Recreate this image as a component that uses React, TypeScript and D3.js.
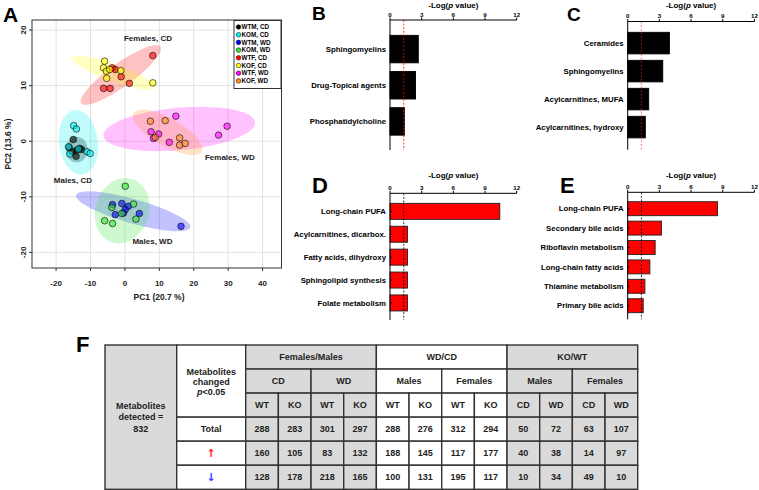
import * as d3 from "d3";

const FONT = "'Liberation Sans', Arial, Helvetica, sans-serif";

// ---- panel A: PCA scores ----
const groupNames = ["WTM, CD", "KOM, CD", "WTM, WD", "KOM, WD", "WTF, CD", "KOF, CD", "WTF, WD", "KOF, WD"];
const groupColors = ["#000000", "#00f0f0", "#0000ff", "#33e633", "#ff0000", "#ffff00", "#ff00ff", "#ff8c1a"];

const pcScores: [number, number][][] = [
  [[-15, 0.3], [-16.2, -1.1], [-14, -1.6], [-13.1, -1.3], [-12.6, -1.5], [-14.2, -2.7], [-15.3, -1.9]],
  [[-14.9, 2.8], [-14.1, 2.2], [-16, -2.3], [-11, -1.9], [-10.1, -2.2], [-16.4, -1.0], [-13.5, -1.4]],
  [[-3.6, -11.4], [-0.9, -11.2], [1.0, -11.7], [0.1, -12.3], [-0.4, -12.9], [-2.8, -13.2], [4.2, -13.0], [16.3, -15.3]],
  [[0.1, -8.1], [2.5, -11.3], [-3.8, -11.9], [-0.9, -13.0], [3.2, -14.0], [-5.9, -14.3], [-3.6, -14.8]],
  [[-3.7, 13.2], [-2.8, 12.9], [-1.1, 11.6], [1.3, 10.4], [-6.2, 9.5], [-4.3, 9.5], [8.1, 15.4]],
  [[-5.9, 14.4], [-6.2, 13.2], [-5.4, 12.6], [-4.4, 12.9], [-1.2, 12.7], [-5.3, 11.3], [8.1, 10.5]],
  [[14.8, 4.5], [7.6, 1.7], [9.8, 1.3], [8.3, 0.5], [12.9, -0.2], [27.2, 1.1], [29.7, 2.7]],
  [[7.4, 3.6], [11.7, 3.7], [8.8, 0.7], [15.9, 0.6], [15.9, -0.7], [17.5, -0.4]],
];

// confidence ellipses: centre and two conjugate semi-axes, in PC units
const ellipseCenter: [number, number][] = [
  [-14.0, -1.5], [-13.5, -0.2], [2.4, -12.6], [-0.8, -12.5], [-1.2, 11.9], [-3.3, 12.3], [15.8, 2.2], [12.4, 1.6],
];
const ellipseAxisA: [number, number][] = [
  [3.2, 0], [-1.17, 5.8], [16.6, -2.9], [2.9, 5.7], [11.5, 5.1], [12.1, -2.7], [22.0, 1.2], [9.94, -3.4],
];
const ellipseAxisB: [number, number][] = [
  [0, 2.3], [5.6, 0.42], [-0.94, -2.1], [7.4, -1.44], [2.0, -1.7], [-0.83, -1.41], [0.5, -3.8], [-1.86, -2.25],
];

const clusterLabels = ["Females, CD", "Females, WD", "Males, CD", "Males, WD"];
const clusterLabelAt: [number, number][] = [[6.7, 18.6], [30.5, -2.8], [-15.1, -7.0], [8.0, -18.0]];

const pc1Ticks = [-20, -10, 0, 10, 20, 30, 40];
const pc2Ticks = [-20, -10, 0, 10, 20];

// ---- panels B-E: enrichment ----
const logTicks = [0, 3, 6, 9, 12];
const threshold = -Math.log10(0.05);

const bCats = ["Sphingomyelins", "Drug-Topical agents", "Phosphatidylcholine"];
const bVals = [2.68, 2.42, 1.36];
const cCats = ["Ceramides", "Sphingomyelins", "Acylcarnitines, MUFA", "Acylcarnitines, hydroxy"];
const cVals = [3.95, 3.32, 1.99, 1.67];
const dCats = ["Long-chain PUFA", "Acylcarnitines, dicarbox.", "Fatty acids, dihydroxy", "Sphingolipid synthesis", "Folate metabolism"];
const dVals = [10.4, 1.66, 1.66, 1.66, 1.66];
const eCats = ["Long-chain PUFA", "Secondary bile acids", "Riboflavin metabolism", "Long-chain fatty acids", "Thiamine metabolism", "Primary bile acids"];
const eVals = [8.5, 3.2, 2.6, 2.1, 1.63, 1.47];

// ---- panel F: table ----
const groupHeads = ["Females/Males", "WD/CD", "KO/WT"];
const subHeads = ["CD", "WD", "Males", "Females", "Males", "Females"];
const leafHeads = ["WT", "KO", "WT", "KO", "WT", "KO", "WT", "KO", "CD", "WD", "CD", "WD"];
const totalRow = [288, 283, 301, 297, 288, 276, 312, 294, 50, 72, 63, 107];
const upRow = [160, 105, 83, 132, 188, 145, 117, 177, 40, 38, 14, 97];
const downRow = [128, 178, 218, 165, 100, 131, 195, 117, 10, 34, 49, 10];
const detected = 832;

function PanelA() {
  const x = d3.scaleLinear([-27, 45.5], [32, 281.5]);
  const y = d3.scaleLinear([-22.8, 21.8], [268, 20]);
  const steps = d3.range(0, 80).map((i) => (i / 80) * 2 * Math.PI);
  const ell = (c: [number, number], a: [number, number], b: [number, number]) =>
    (d3.line()(
      steps.map((t) => [
        x(c[0] + a[0] * Math.cos(t) + b[0] * Math.sin(t)),
        y(c[1] + a[1] * Math.cos(t) + b[1] * Math.sin(t)),
      ])
    ) || "") + "Z";
  const [x0, x1] = x.range();
  const [y0, y1] = y.range();
  return (
    <g fontFamily={FONT} fontWeight="bold">
      <text x={3} y={22} fontSize={21}>A</text>
      {pc1Ticks.map((t) => (
        <line key={"gx" + t} x1={x(t)} x2={x(t)} y1={y1} y2={y0} stroke="#e2e2e2" />
      ))}
      {pc2Ticks.map((t) => (
        <line key={"gy" + t} x1={x0} x2={x1} y1={y(t)} y2={y(t)} stroke="#e2e2e2" />
      ))}
      {ellipseCenter.map((c, i) => (
        <path key={"e" + i} d={ell(c, ellipseAxisA[i], ellipseAxisB[i])} fill={groupColors[i]}
          fillOpacity={i === 0 ? 0.28 : 0.24} stroke="none" />
      ))}
      {pcScores.map((pts, i) =>
        pts.map((p, j) => (
          <circle key={i + "-" + j} cx={x(p[0])} cy={y(p[1])} r={3.3} fill={groupColors[i]}
            fillOpacity={0.6} stroke="#000" strokeWidth={0.7} strokeOpacity={0.85} />
        ))
      )}
      {clusterLabels.map((l, i) => (
        <text key={l} x={x(clusterLabelAt[i][0])} y={y(clusterLabelAt[i][1])} dy="0.35em"
          textAnchor="middle" fontSize={8} fill="#222">{l}</text>
      ))}
      <rect x={x0} y={y1} width={x1 - x0} height={y0 - y1} fill="none" stroke="#333" />
      {pc1Ticks.map((t) => (
        <g key={"tx" + t}>
          <line x1={x(t)} x2={x(t)} y1={y0} y2={y0 + 3} stroke="#333" />
          <text x={x(t)} y={286} textAnchor="middle" fontSize={8} fill="#222">{t}</text>
        </g>
      ))}
      {pc2Ticks.map((t) => (
        <g key={"ty" + t}>
          <line x1={x0 - 3} x2={x0} y1={y(t)} y2={y(t)} stroke="#333" />
          <text transform={`translate(25.5,${y(t)}) rotate(-90)`} textAnchor="middle" fontSize={8} fill="#222">{t}</text>
        </g>
      ))}
      <text x={159} y={299.5} textAnchor="middle" fontSize={8.5} fill="#222">PC1 (20.7 %)</text>
      <text transform="translate(11,144) rotate(-90)" textAnchor="middle" fontSize={8.5} fill="#222">PC2 (13.6 %)</text>
      <rect x={234} y={20.5} width={47} height={68} fill="#fff" stroke="#333" />
      {groupNames.map((g, i) => (
        <g key={g} transform={`translate(0,${27 + i * 7.7})`}>
          <circle cx={238.5} cy={0} r={2.3} fill={groupColors[i]} stroke="#000" strokeWidth={0.5} />
          <text x={241.5} y={0} dy="0.35em" fontSize={6.3}>{g}</text>
        </g>
      ))}
    </g>
  );
}

function BarPanel({ letter, letterX, letterY, letterSize, cats, vals, left, top, bottom, band, pad,
  fill, stroke, dash, dashOpacity, titleGap }: any) {
  const x = d3.scaleLinear([0, 12], [left, left + 126.7]);
  const y = d3.scaleBand<string>(cats, band).paddingInner(pad).paddingOuter(pad / 2);
  return (
    <g fontFamily={FONT} fontWeight="bold">
      <text x={letterX} y={letterY} fontSize={letterSize}>{letter}</text>
      <text x={x(6)} y={top - titleGap} textAnchor="middle" fontSize={8}>
        -Log(<tspan fontStyle="italic">p</tspan> value)
      </text>
      {vals.map((v: number, i: number) => (
        <rect key={i} x={x(0)} y={y(cats[i])} width={x(v) - x(0)} height={y.bandwidth()}
          fill={fill} stroke={stroke} strokeWidth={0.9} />
      ))}
      {cats.map((c: string) => (
        <g key={c}>
          <line x1={x(0)} x2={x(0) + 2} y1={(y(c) as number) + y.bandwidth() / 2} y2={(y(c) as number) + y.bandwidth() / 2} stroke="#000" strokeWidth={0.8} />
          <text x={x(0) - 4} y={(y(c) as number) + y.bandwidth() / 2} dy="0.35em" textAnchor="end" fontSize={7.8}>{c}</text>
        </g>
      ))}
      <line x1={x(threshold)} x2={x(threshold)} y1={top} y2={bottom} stroke={dash} strokeOpacity={dashOpacity}
        strokeWidth={dashOpacity < 1 ? 1.3 : 0.8} strokeDasharray="2,1.6" />
      <line x1={x(0)} x2={x(12)} y1={top} y2={top} stroke="#000" strokeWidth={1} />
      <line x1={x(0)} x2={x(0)} y1={top} y2={bottom} stroke="#000" strokeWidth={1} />
      {logTicks.map((t) => (
        <g key={t}>
          <line x1={x(t)} x2={x(t)} y1={top} y2={top - 2.5} stroke="#000" />
          <text x={x(t)} y={top - 3.2} textAnchor="middle" fontSize={6.2}>{t}</text>
        </g>
      ))}
    </g>
  );
}

function PanelF() {
  const col = d3.scaleBand(d3.range(12), [245.7, 637.7]);
  const row = d3.scaleBand(d3.range(6), [345, 489.3]);
  const bw = col.bandwidth();
  const rh = row.bandwidth();
  const grey = "#dadada";
  const line = { stroke: "#333", strokeWidth: 1.4 };
  const fillFor = (leaf: number) => (Math.floor(leaf / 4) === 1 ? "#fff" : grey);
  const rowsData = [totalRow, upRow, downRow];
  const cell = (key: string, x: number, yy: number, w: number, h: number, f: string, label: any) => (
    <g key={key}>
      <rect x={x} y={yy} width={w} height={h} fill={f} {...line} />
      <text x={x + w / 2} y={yy + h / 2} dy="0.35em" textAnchor="middle" fontSize={9} fill="#222">{label}</text>
    </g>
  );
  const r = (i: number) => row(i) as number;
  const c = (i: number) => col(i) as number;
  return (
    <g fontFamily={FONT} fontWeight="bold">
      <text x={76} y={352} fontSize={22}>F</text>
      <rect x={105} y={r(0)} width={176.7 - 105} height={6 * rh} fill={grey} {...line} />
      <text x={140.8} y={406} dy="0.35em" textAnchor="middle" fontSize={9} fill="#222">Metabolites</text>
      <text x={140.8} y={417.3} dy="0.35em" textAnchor="middle" fontSize={9} fill="#222">detected =</text>
      <text x={140.8} y={428.6} dy="0.35em" textAnchor="middle" fontSize={9} fill="#222">{detected}</text>
      <rect x={176.7} y={r(0)} width={245.7 - 176.7} height={3 * rh} fill="#fff" {...line} />
      <text x={211.2} y={371.7} dy="0.35em" textAnchor="middle" fontSize={9} fill="#222">Metabolites</text>
      <text x={211.2} y={381.9} dy="0.35em" textAnchor="middle" fontSize={9} fill="#222">changed</text>
      <text x={211.2} y={392.1} dy="0.35em" textAnchor="middle" fontSize={9} fill="#222">
        <tspan fontStyle="italic">p</tspan>&lt;0.05
      </text>
      {cell("tot", 176.7, r(3), 245.7 - 176.7, rh, "#fff", "Total")}
      <rect x={176.7} y={r(4)} width={245.7 - 176.7} height={rh} fill="#fff" {...line} />
      <text x={211.2} y={r(4) + rh / 2} dy="0.35em" textAnchor="middle" fontSize={11} fill="#ff2020"
        fontFamily="'DejaVu Sans', sans-serif" fontWeight="bold">↑</text>
      <rect x={176.7} y={r(5)} width={245.7 - 176.7} height={rh} fill="#fff" {...line} />
      <text x={211.2} y={r(5) + rh / 2} dy="0.35em" textAnchor="middle" fontSize={11} fill="#3a3aff"
        fontFamily="'DejaVu Sans', sans-serif" fontWeight="bold">↓</text>
      {groupHeads.map((g, i) => cell("g" + i, c(4 * i), r(0), 4 * bw, rh, fillFor(4 * i), g))}
      {subHeads.map((s, i) => cell("s" + i, c(2 * i), r(1), 2 * bw, rh, fillFor(2 * i), s))}
      {leafHeads.map((l, i) => cell("l" + i, c(i), r(2), bw, rh, fillFor(i), l))}
      {rowsData.map((vals, k) => vals.map((v, i) => cell(`d${k}-${i}`, c(i), r(3 + k), bw, rh, fillFor(i), v)))}
    </g>
  );
}

export default function App() {
  return (
    <svg width={759} height={490} style={{ position: "absolute", left: 0, top: 0, background: "#fff" }}>
      <rect width={759} height={490} fill="#fff" />
      <PanelA />
      <BarPanel letter="B" letterX={312} letterY={20} letterSize={19} cats={bCats} vals={bVals}
        left={390} top={20} bottom={150} band={[31, 139.5]} pad={0.24} fill="#000" stroke="#000"
        dash="#ff0000" dashOpacity={1} titleGap={12.5} />
      <BarPanel letter="C" letterX={567} letterY={21} letterSize={19} cats={cCats} vals={cVals}
        left={627.7} top={21.5} bottom={149.7} band={[29.1, 141.1]} pad={0.23} fill="#000" stroke="#000"
        dash="#ff2020" dashOpacity={0.45} titleGap={14} />
      <BarPanel letter="D" letterX={312} letterY={193} letterSize={22} cats={dCats} vals={dVals}
        left={390} top={193.3} bottom={320} band={[199.9, 314.4]} pad={0.3} fill="#ff0000" stroke="#222"
        dash="#000" dashOpacity={1} titleGap={15} />
      <BarPanel letter="E" letterX={560} letterY={193} letterSize={22} cats={eCats} vals={eVals}
        left={627.7} top={192.3} bottom={319.3} band={[199, 315.4]} pad={0.28} fill="#ff0000" stroke="#222"
        dash="#000" dashOpacity={1} titleGap={14.5} />
      <PanelF />
    </svg>
  );
}
